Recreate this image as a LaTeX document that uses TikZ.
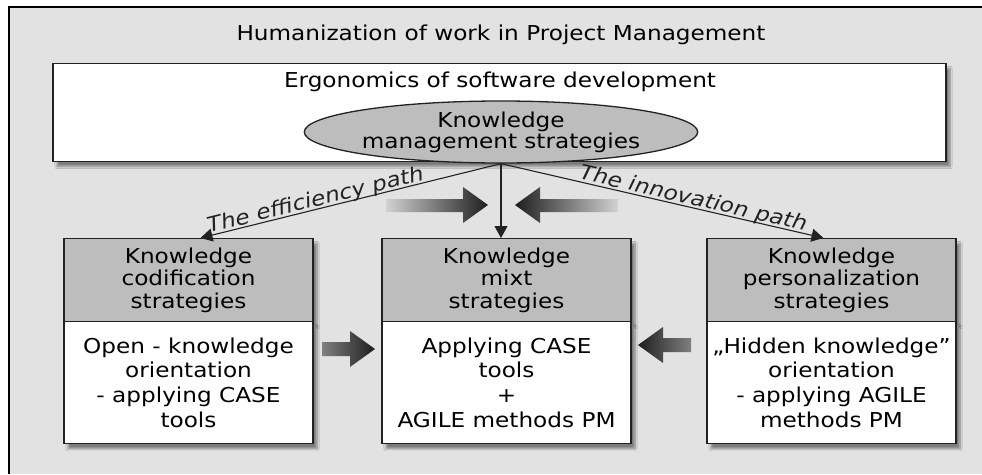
\documentclass[tikz,border=0pt]{standalone}
\usepackage{fontspec}
\setmainfont{DejaVu Sans}[FakeStretch=1.13]
\usepackage{tikz}
\usetikzlibrary{arrows.meta,positioning,shapes.geometric,calc,shadows.blur}
\definecolor{panelgray}{HTML}{E2E2E2}
\definecolor{headgray}{HTML}{BDBDBD}
\definecolor{linegray}{HTML}{222222}

\begin{document}
\begin{tikzpicture}[x=1pt,y=-1pt,
  boxshadow/.style={blur shadow={shadow xshift=4pt,shadow yshift=-5pt,shadow blur steps=8,shadow opacity=45}},
  hdr/.style={rectangle,draw=linegray,line width=1.3pt,fill=headgray,anchor=north,
    minimum width=249pt,minimum height=83pt,inner sep=1pt,align=center,
    font=\fontsize{20.5}{22.5}\selectfont,boxshadow},
  body/.style={rectangle,draw=linegray,line width=1.3pt,fill=white,anchor=north,
    minimum width=249pt,minimum height=122pt,inner sep=1pt,align=center,
    font=\fontsize{20.5}{24.7}\selectfont,boxshadow},
  conn/.style={-{Triangle[length=12pt,width=13pt]},line width=1.1pt,linegray},
  pathlabel/.style={pos=#1,above=-2pt,sloped,inner sep=0pt,font=\fontsize{20.5}{22}\selectfont\itshape},
  toright/.style={left color=#1,right color=black!88},
  toleft/.style={right color=#1,left color=black!88},
]
  \useasboundingbox (0,0) rectangle (982,474);
  % grey panel, only its top and left edge are framed
  \fill[panelgray] (9,7) rectangle (982,474);
  \draw[line width=2pt,black] (9,474) -- (9,7) -- (982,7);
  \node[font=\fontsize{20.5}{22}\selectfont] (title) at (501,35)
    {Humanization of work in Project Management};

  % ergonomics frame with the central ellipse
  \node[rectangle,draw=linegray,line width=1.3pt,fill=white,minimum width=893pt,
    minimum height=98pt,boxshadow] (ergo) at (499.5,112.5) {};
  \node[font=\fontsize{20.5}{22}\selectfont] (ergotxt) at (500,82)
    {Ergonomics of software development};
  \node[ellipse,draw=linegray,line width=1.3pt,fill=headgray,minimum width=377pt,
    minimum height=62pt,inner sep=0pt,align=center,
    font=\fontsize{20.5}{21}\selectfont] (kms) at (501,132)
    {Knowledge\\management strategies};

  % the three strategy boxes
  \node[hdr] (codifh) at (188.5,238) {Knowledge\\codification\\strategies};
  \node[body] (codifb) at (188.5,321) {Open - knowledge\\orientation\\- applying CASE\\tools};
  \node[hdr] (mixth) at (506.5,238) {Knowledge\\mixt\\strategies};
  \node[body] (mixtb) at (506.5,321) {Applying CASE\\tools\\+\\AGILE methods PM};
  \node[hdr] (persh) at (831.5,238) {Knowledge\\personalization\\strategies};
  \node[body] (persb) at (831.5,321) {„Hidden knowledge”\\orientation\\- applying AGILE\\methods PM};

  % paths out of the ellipse
  \coordinate (effend) at ($(codifh.north)+(12,0)$);
  \coordinate (innend) at ($(persh.north)+(-8,0)$);
  \draw[conn,{Triangle[length=12pt,width=13pt]}-] (effend) -- (kms.south)
    node[pathlabel=0.39] {The efficiency path};
  \draw[conn] (kms.south) -- (innend)
    node[pathlabel=0.59] {The innovation path};
  \draw[conn] (kms.south) -- (kms.south |- mixth.north);

  % shaded block arrows towards the mixt strategies
  \shade[toright=black!18] (386,199) -- (463,199) -- (463,187) -- (488,205)
    -- (463,223) -- (463,212) -- (386,212) -- cycle;
  \shade[toleft=black!18] (618,199) -- (540,199) -- (540,187) -- (515,205)
    -- (540,223) -- (540,212) -- (618,212) -- cycle;
  \shade[toright=black!50] (322,342) -- (350,342) -- (350,331) -- (375,349)
    -- (350,367) -- (350,356) -- (322,356) -- cycle;
  \shade[toleft=black!50] (691,338) -- (663,338) -- (663,327) -- (638,345)
    -- (663,363) -- (663,352) -- (691,352) -- cycle;
\end{tikzpicture}
\end{document}
